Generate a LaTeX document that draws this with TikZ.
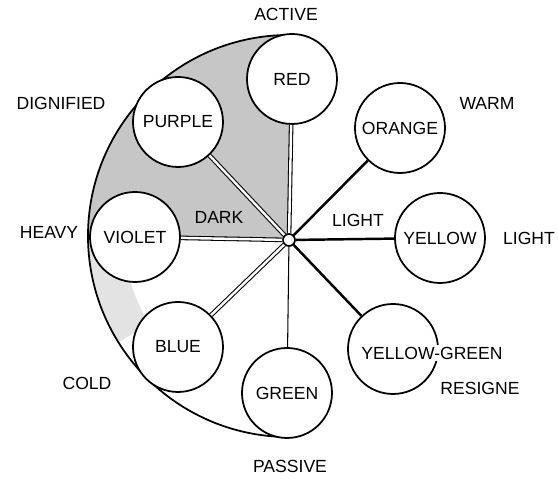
\documentclass[tikz,border=0pt]{standalone}
\usepackage{fontspec}
\setmainfont{Liberation Sans}
\begin{document}
\begin{tikzpicture}[
    every node/.style={font=\fontsize{10}{12}\selectfont},
    colour/.style={circle, draw, line width=1pt, fill=white, minimum size=1.8cm, inner sep=0pt},
    twin/.style={double, double distance=1.4pt, line width=0.6pt},
    bold/.style={line width=1.4pt}
]

    % Radius of the outer arc and the radius of the inner edge of the light patch
    \def\outerR{4.02}
    \def\patchR{3.3}

    \useasboundingbox (-5.78,-4.82) rectangle (5.38,4.80);

    % Centre of the outer arc, a little above the hub
    \coordinate (centre) at (0,0.08);

    % Shaded quarter between RED and VIOLET
    \fill[gray!45] (0,0) -- ([shift={(90:\outerR)}]centre) arc[start angle=90, end angle=180, radius=\outerR] -- cycle;
    % Lighter patch below VIOLET
    \fill[gray!22] ([shift={(182:\outerR)}]centre) arc[start angle=182, end angle=212, radius=\outerR]
        -- ([shift={(212:\patchR)}]centre) arc[start angle=212, end angle=182, radius=\patchR] -- cycle;

    % Outer arc
    \draw[line width=1pt] ([shift={(92:\outerR)}]centre) arc[start angle=92, end angle=268, radius=\outerR];

    % Colour circles around the hub
    \node[colour] (red) at (0.06,3.22) {RED};
    \node[colour] (purple) at (-2.22,2.36) {PURPLE};
    \node[colour] (orange) at (2.22,2.24) {ORANGE};
    \node[colour] (yellow) at (3.02,0.04) {YELLOW};
    \node[colour] (yg) at (2.08,-2.18) {};
    \node[colour] (green) at (-0.04,-3.06) {GREEN};
    \node[colour] (blue) at (-2.22,-2.14) {BLUE};
    \node[colour] (violet) at (-3.08,0.06) {VIOLET};
    \node[fill=white, inner sep=1pt] (ygtext) at (2.86,-2.26) {YELLOW-GREEN};
    \node[circle, draw, line width=1pt, fill=white, minimum size=0.24cm, inner sep=0pt] (hub) at (0,0) {};

    % Spokes
    \draw[twin] (hub) -- (red);
    \draw[twin] (hub) -- (purple);
    \draw[twin] (hub) -- (violet);
    \draw[twin] (hub) -- (blue);
    \draw[bold] (hub) -- (orange);
    \draw[bold] (hub) -- (yellow);
    \draw[bold] (hub) -- (yg);
    \draw[line width=0.6pt] (hub) -- (green);

    % Words round the wheel
    \node (active) at (-0.06,4.52) {ACTIVE};
    \node (dignified) at (-4.56,2.74) {DIGNIFIED};
    \node (warm) at (3.96,2.74) {WARM};
    \node (lightout) at (4.80,0.04) {LIGHT};
    \node (heavy) at (-4.80,0.16) {HEAVY};
    \node (cold) at (-4.04,-2.86) {COLD};
    \node (passive) at (0.02,-4.52) {PASSIVE};
    \node (resigne) at (3.82,-2.96) {RESIGNE};
    \node (dark) at (-1.40,0.46) {DARK};
    \node (lightin) at (1.38,0.40) {LIGHT};

\end{tikzpicture}
\end{document}
